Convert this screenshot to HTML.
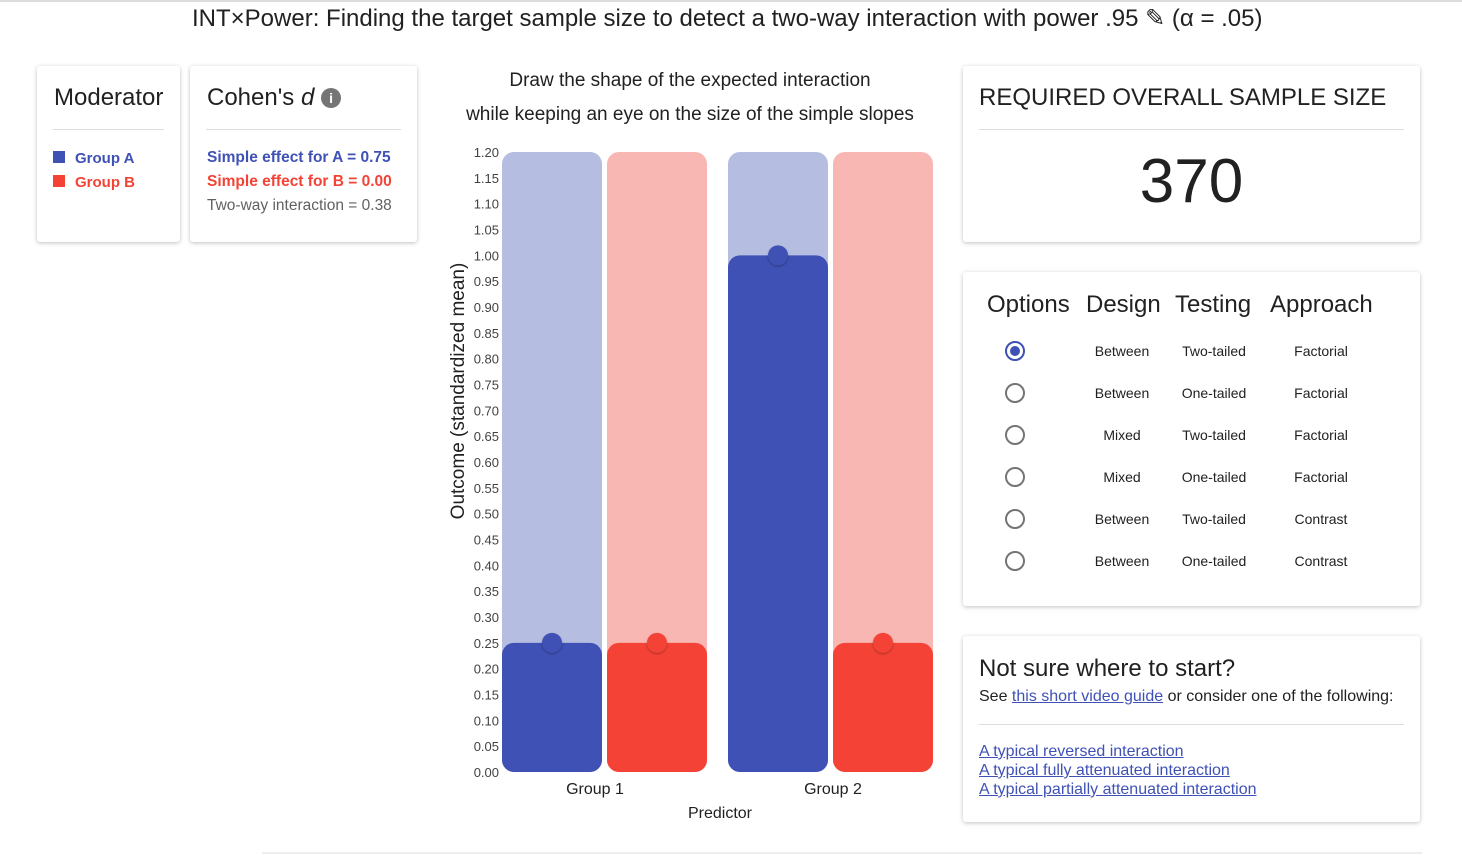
<!DOCTYPE html>
<html><head><meta charset="utf-8">
<style>
*{box-sizing:border-box;margin:0;padding:0}
body{width:1462px;height:855px;position:relative;background:#fff;font-family:"Liberation Sans",sans-serif;color:#212121;overflow:hidden}
.card{position:absolute;background:#fff;border-radius:3px;box-shadow:0 1px 4px rgba(0,0,0,.25)}
.abs{position:absolute;white-space:nowrap}
hr.d{position:absolute;border:0;border-top:1px solid #ddd;height:0}
a{color:#3f51b5}
.radio{position:absolute;width:20px;height:20px;border:2px solid #757575;border-radius:50%}
.radio.on{border-color:#3f51b5}
.radio.on::after{content:"";position:absolute;left:3px;top:3px;width:10px;height:10px;border-radius:50%;background:#3f51b5}
.cell{position:absolute;font-size:14px;text-align:center;width:100px}
</style></head><body>
<div style="position:absolute;left:0;top:0;width:1462px;border-top:2px solid #ddd"></div>
<div class="abs" style="left:192px;top:4px;font-size:24px">INT×Power: Finding the target sample size to detect a two-way interaction with power <span>.95 ✎</span> (α = .05)</div>

<div class="card" style="left:37px;top:66px;width:143px;height:176px">
 <div class="abs" style="left:17px;top:18px;font-size:24px">Moderator</div>
 <hr class="d" style="left:16px;top:63px;width:111px">
 <div class="abs" style="left:16px;top:84px;font-size:15px;font-weight:bold;color:#3f51b5"><span style="display:inline-block;width:12px;height:12px;background:#3f51b5;margin-right:10px"></span>Group A</div>
 <div class="abs" style="left:16px;top:108px;font-size:15px;font-weight:bold;color:#f44336"><span style="display:inline-block;width:12px;height:12px;background:#f44336;margin-right:10px"></span>Group B</div>
</div>

<div class="card" style="left:190px;top:66px;width:227px;height:176px">
 <div class="abs" style="left:17px;top:18px;font-size:24px">Cohen's <i>d</i> <span style="display:inline-block;width:20px;height:20px;border-radius:50%;background:#757575;color:#fff;font-size:14px;text-align:center;line-height:20px;font-weight:bold;vertical-align:2px">i</span></div>
 <hr class="d" style="left:16px;top:63px;width:195px">
 <div class="abs" style="left:17px;top:83px;font-size:15.5px;font-weight:bold;color:#3f51b5">Simple effect for A = 0.75</div>
 <div class="abs" style="left:17px;top:107px;font-size:15.5px;font-weight:bold;color:#f44336">Simple effect for B = 0.00</div>
 <div class="abs" style="left:17px;top:131px;font-size:15.5px;color:#616161">Two-way interaction = 0.38</div>
</div>

<div class="abs" style="left:440px;top:64px;width:500px;text-align:center;font-size:19px;line-height:34px">Draw the shape of the expected interaction<br>while keeping an eye on the size of the simple slopes</div>

<svg id="chart" style="position:absolute;left:0;top:0" width="1462" height="855"></svg>

<div class="card" style="left:963px;top:66px;width:457px;height:176px">
 <div class="abs" style="left:16px;top:18px;font-size:24px">REQUIRED OVERALL SAMPLE SIZE</div>
 <hr class="d" style="left:16px;top:63px;width:425px">
 <div class="abs" style="left:0;top:80px;width:457px;text-align:center;font-size:62px">370</div>
</div>

<div class="card" style="left:963px;top:272px;width:457px;height:334px">
 <div class="abs" style="left:24px;top:19px;font-size:24px">Options</div>
 <div class="abs" style="left:123px;top:19px;font-size:24px">Design</div>
 <div class="abs" style="left:212px;top:19px;font-size:24px">Testing</div>
 <div class="abs" style="left:307px;top:19px;font-size:24px">Approach</div>
 <div id="rows"></div>
</div>

<div class="card" style="left:963px;top:636px;width:457px;height:186px">
 <div class="abs" style="left:16px;top:19px;font-size:24px">Not sure where to start?</div>
 <div class="abs" style="left:16px;top:52px;font-size:16px">See <a href="#">this short video guide</a> or consider one of the following:</div>
 <hr class="d" style="left:16px;top:88px;width:425px">
 <div class="abs" style="left:16px;top:106px;font-size:16px;line-height:19px">
  <a href="#">A typical reversed interaction</a><br>
  <a href="#">A typical fully attenuated interaction</a><br>
  <a href="#">A typical partially attenuated interaction</a></div>
</div>
<div style="position:absolute;left:262px;top:852px;width:1160px;border-top:2px solid #eee"></div>

<script>
const groups=["Group 1","Group 2"];
const seriesA=[0.25,1.00];
const seriesB=[0.25,0.25];
const yTicks=[0,0.05,0.1,0.15,0.2,0.25,0.3,0.35,0.4,0.45,0.5,0.55,0.6,0.65,0.7,0.75,0.8,0.85,0.9,0.95,1,1.05,1.1,1.15,1.2];
const designs=["Between","Between","Mixed","Mixed","Between","Between"];
const testings=["Two-tailed","One-tailed","Two-tailed","One-tailed","Two-tailed","One-tailed"];
const approaches=["Factorial","Factorial","Factorial","Factorial","Contrast","Contrast"];

const NS="http://www.w3.org/2000/svg";
const svg=document.getElementById('chart');
const yMax=1.2,y0=772,y1=152;
const y=v=>y0-(v/yMax)*(y0-y1);
const groupX=i=>502+i*226;
function el(t,a){const e=document.createElementNS(NS,t);for(const k in a)e.setAttribute(k,a[k]);svg.appendChild(e);return e;}
function bar(x,v,fill,bg,name,dot){
 const b=el('rect',{x:x,y:y1,width:100,height:y0-y1,rx:12,fill:bg});
 
 
 const r=el('rect',{x:x,y:y(v),width:100,height:y0-y(v),rx:12,fill:fill});
 
 
 const c=el('circle',{cx:x+50,cy:y(v),r:10,fill:dot,style:'filter:drop-shadow(0 1px 1px rgba(0,0,0,.3))'});
 
 
}
groups.forEach((g,i)=>{
 const gx=groupX(i);
 bar(gx,seriesA[i],'#3f51b5','#b5bde1','bar-a-'+(i+1),'#3f51b5');
 bar(gx+105,seriesB[i],'#f44336','#f9b7b3','bar-b-'+(i+1),'#f44336');
 const t=el('text',{x:gx+93+i*12,y:794,'font-size':16,'text-anchor':'middle',fill:'#212121','font-family':'Liberation Sans'});
 t.textContent=g;
 
 
});
yTicks.forEach(v=>{
 const t=el('text',{x:499,y:y(v)+5,'font-size':13,'text-anchor':'end',fill:'#424242','font-family':'Liberation Sans'});
 t.textContent=v.toFixed(2);
 
 
});
const xt=el('text',{x:720,y:818,'font-size':16,'text-anchor':'middle',fill:'#212121','font-family':'Liberation Sans'});
xt.textContent='Predictor';


const yt=el('text',{x:0,y:0,'font-size':19,'text-anchor':'middle',fill:'#212121','font-family':'Liberation Sans',transform:'translate(464,391) rotate(-90)'});
yt.textContent='Outcome (standardized mean)';



const rows=document.getElementById('rows');
designs.forEach((d,i)=>{
 const top=79+i*42;
 const r=document.createElement('div');
 r.className='radio'+(i===0?' on':'');
 r.style.left='42px';r.style.top=(top-10)+'px';
 
 
 rows.appendChild(r);
 [[d,159],[testings[i],251],[approaches[i],358]].forEach(([txt,cx])=>{
  const c=document.createElement('div');
  c.className='cell';c.textContent=txt;
  c.style.left=(cx-50)+'px';c.style.top=(top-8)+'px';
  
  
  rows.appendChild(c);
 });
});
</script>
</body></html>
